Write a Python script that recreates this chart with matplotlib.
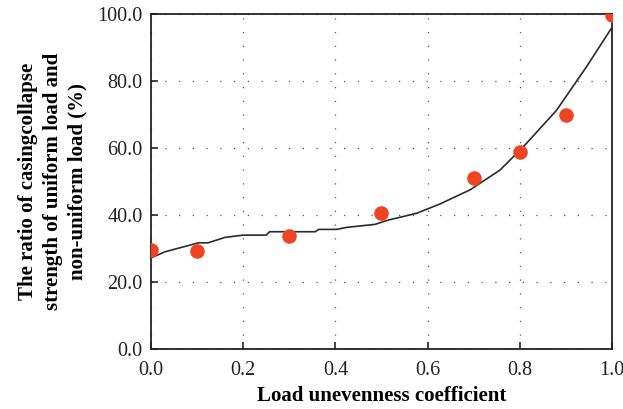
import matplotlib
matplotlib.use("Agg")
import matplotlib.pyplot as plt

# Data
pts_x = [0.0, 0.1, 0.3, 0.5, 0.7, 0.8, 0.9, 1.0]
pts_y = [29.5, 29.4, 33.8, 40.5, 51.0, 58.7, 69.7, 99.8]

line_x = [0.0, 0.03, 0.103, 0.124, 0.16, 0.20, 0.25, 0.257, 0.356, 0.364,
          0.403, 0.424, 0.486, 0.515, 0.576, 0.627, 0.692, 0.757, 0.808,
          0.880, 0.945, 1.0]
line_y = [27.2, 29.0, 31.7, 31.7, 33.3, 34.0, 34.0, 35.0, 35.0, 35.7,
          35.7, 36.3, 37.2, 38.5, 40.5, 43.3, 47.5, 53.4, 60.4,
          71.3, 84.3, 96.0]

x_ticks = [0.0, 0.2, 0.4, 0.6, 0.8, 1.0]
y_ticks = [0.0, 20.0, 40.0, 60.0, 80.0, 100.0]

plt.rcParams['font.family'] = ['Liberation Serif', 'DejaVu Serif']

fig = plt.figure(figsize=(6.23, 4.09), dpi=100)
ax = fig.add_axes([0.2424, 0.1467, 0.9823 - 0.2424, 0.9658 - 0.1467])

ln, = ax.plot(line_x, line_y, color='#2b2b2b', lw=1.2, zorder=3)
mk, = ax.plot(pts_x, pts_y, 'o', color='#EE4423', markersize=10.5, markeredgewidth=0, zorder=4)
mk.set_clip_path(ax.patch)
ln.set_clip_path(ax.patch)

ax.set_xlim(0, 1.0)
ax.set_ylim(0, 100)
ax.set_xticks(x_ticks)
ax.set_yticks(y_ticks)
ax.set_xticklabels([f"{v:.1f}" for v in x_ticks])
ax.set_yticklabels([f"{v:.1f}" for v in y_ticks])
ax.tick_params(direction='in', length=5, width=1.2, labelsize=14.5, colors='#222222',
               top=False, right=False)
ax.tick_params(axis='y', pad=6)
ax.tick_params(axis='x', pad=9)

ax.grid(True, color='#555555', linestyle=(0, (1, 10)), linewidth=0.9)

for s in ax.spines.values():
    s.set_linewidth(1.3)
    s.set_color('#222222')

ax.set_xlabel('Load unevenness coefficient', fontsize=15, fontweight='bold', labelpad=4)
ax.set_ylabel('The ratio of casingcollapse\nstrength of uniform load and\nnon-uniform load (%)',
              fontsize=15, fontweight='bold', linespacing=1.32)
ax.yaxis.set_label_coords(-0.138, 0.5)

fig.savefig('out.png', dpi=100)
